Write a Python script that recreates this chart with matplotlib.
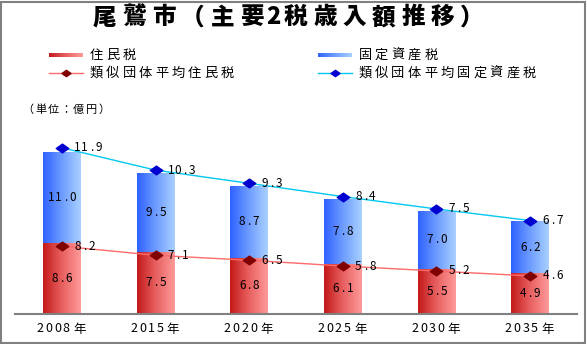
import numpy as np
import matplotlib
matplotlib.use("Agg")
import matplotlib.pyplot as plt
from matplotlib.colors import LinearSegmentedColormap
from matplotlib.patches import Rectangle
from matplotlib.lines import Line2D
from matplotlib.path import Path

plt.rcParams['font.family'] = ['Noto Sans CJK JP', 'DejaVu Sans']

years = ['2008年', '2015年', '2020年', '2025年', '2030年', '2035年']
jumin = [8.6, 7.5, 6.8, 6.1, 5.5, 4.9]
kotei = [11.0, 9.5, 8.7, 7.8, 7.0, 6.2]
avg_jumin = [8.2, 7.1, 6.5, 5.8, 5.2, 4.6]
avg_kotei = [11.9, 10.3, 9.3, 8.4, 7.5, 6.7]

title = '尾鷲市（主要2税歳入額推移）'
unit_label = '（単位：億円）'
leg_labels = ['住民税', '固定資産税', '類似団体平均住民税', '類似団体平均固定資産税']

W, H = 587, 344
fig = plt.figure(figsize=(W / 100, H / 100), dpi=100)
PT = 72 / 100  # points per pixel


def spaced(xy, xycoords, s, full, half=None, ha='left', dx=0, dy=0, **kw):
    """Draw string s char by char with fixed pixel advances (full / half width)."""
    if half is None:
        half = full / 2
    advs = [half if ord(c) < 0x2000 else full for c in s]
    total = sum(advs)
    start = {'left': 0, 'center': -total / 2, 'right': -total}[ha] + dx
    pos = start
    for c, a in zip(s, advs):
        cx = pos + a / 2
        plt.annotate(c, xy, xycoords=xycoords, xytext=(cx * PT, dy * PT),
                     textcoords='offset points', ha='center', va='center',
                     annotation_clip=False, **kw)
        pos += a


red_cmap = LinearSegmentedColormap.from_list('r', ['#c41a1a', '#e86060', '#ff9a9a'])
blue_cmap = LinearSegmentedColormap.from_list('b', ['#2f63ff', '#6e9cff', '#a8d0ff'])
grad = np.linspace(0, 1, 64).reshape(1, -1)

diamond = Path([(-1, 0), (0, 0.7), (1, 0), (0, -0.7), (-1, 0)],
               [Path.MOVETO, Path.LINETO, Path.LINETO, Path.LINETO, Path.CLOSEPOLY])

ax_left, ax_right = 15 / W, 577 / W
ax_bottom = 30 / H
ax_top_px = 110
ax = fig.add_axes([ax_left, ax_bottom, ax_right - ax_left, (H - 30 - ax_top_px) / H])
ppu = 8.27
ymax = (H - 30 - ax_top_px) / ppu

x = np.arange(len(years))
bw = 0.405

for i in range(len(years)):
    b1 = jumin[i]
    t1 = jumin[i] + kotei[i]
    ax.imshow(grad, cmap=red_cmap, extent=[x[i] - bw / 2, x[i] + bw / 2, 0, b1],
              aspect='auto', zorder=2, interpolation='bilinear')
    ax.imshow(grad, cmap=blue_cmap, extent=[x[i] - bw / 2, x[i] + bw / 2, b1, t1],
              aspect='auto', zorder=2, interpolation='bilinear')

ax.set_xlim(-0.5, len(years) - 0.5)
ax.set_ylim(0, ymax)

plt.sca(ax)
VAL_FS = 8.5
for i in range(len(years)):
    b1 = jumin[i]
    spaced((x[i], b1 / 2), 'data', f'{jumin[i]:.1f}', 14, 7, ha='center', fontsize=VAL_FS, zorder=6)
    spaced((x[i], b1 + kotei[i] / 2), 'data', f'{kotei[i]:.1f}', 14, 7, ha='center',
           fontsize=VAL_FS, zorder=6)

line_r = np.array(avg_jumin)
line_b = np.array(avg_jumin) + np.array(avg_kotei)
ax.plot(x, line_r, color='#ff6a6a', lw=1, zorder=3)
ax.plot(x, line_r, ls='none', marker=diamond, ms=9, color='#800000', zorder=4)
ax.plot(x, line_b, color='#00c8f0', lw=1, zorder=3)
ax.plot(x, line_b, ls='none', marker=diamond, ms=9, color='#0000d0', zorder=4)
for i in range(len(years)):
    spaced((x[i], line_r[i]), 'data', f'{avg_jumin[i]:.1f}', 14, 7, ha='left', dx=12,
           fontsize=VAL_FS, zorder=6)
    spaced((x[i], line_b[i]), 'data', f'{avg_kotei[i]:.1f}', 14, 7, ha='left', dx=12,
           fontsize=VAL_FS, zorder=6)

ax.set_xticks(x)
ax.set_xticklabels([''] * len(years))
ax.tick_params(axis='x', length=0)
for i, yr in enumerate(years):
    spaced((x[i], 0), ('data', 'axes fraction'), yr, 17.4, 8.7, ha='center', dy=-15,
           fontsize=9)
ax.set_yticks([])
for s in ['top', 'right', 'left']:
    ax.spines[s].set_visible(False)
ax.spines['bottom'].set_color('#808080')
ax.spines['bottom'].set_linewidth(1.5)


def fx(px):
    return px / W


def fy(py):
    return 1 - py / H


spaced((fx(90), fy(17)), 'figure fraction', title, 29.4, 14.7, ha='left',
       fontsize=17, fontweight='heavy')
spaced((fx(22), fy(110)), 'figure fraction', unit_label, 12.6, 6.3, ha='left', fontsize=8)

# legend
for (px0, py, cmap, lbl) in [(49, 55, red_cmap, leg_labels[0]), (318, 55, blue_cmap, leg_labels[1])]:
    lax = fig.add_axes([fx(px0), fy(py + 2.5), 34 / W, 5 / H])
    lax.imshow(grad, cmap=cmap, aspect='auto', extent=[0, 1, 0, 1])
    lax.axis('off')
    spaced((fx(px0 + 39), fy(py)), 'figure fraction', lbl, 16.4, 8.2, ha='left', fontsize=9.5)

for (px0, py, lc, mc, lbl) in [(49, 73, '#ff6a6a', '#800000', leg_labels[2]),
                               (318, 73, '#00c8f0', '#0000d0', leg_labels[3])]:
    fig.add_artist(Line2D([fx(px0), fx(px0 + 34)], [fy(py), fy(py)], color=lc, lw=1,
                          transform=fig.transFigure))
    fig.add_artist(Line2D([fx(px0 + 17)], [fy(py)], marker=diamond, ms=6.5, color=mc, ls='none',
                          transform=fig.transFigure))
    spaced((fx(px0 + 39), fy(py)), 'figure fraction', lbl, 16.4, 8.2, ha='left', fontsize=9.5)

fig.add_artist(Rectangle((1 / W, 1 / H), (W - 3) / W, (H - 3) / H, transform=fig.transFigure,
                         fill=False, edgecolor='#808080', lw=1.5))

fig.savefig('out.png', dpi=100)
